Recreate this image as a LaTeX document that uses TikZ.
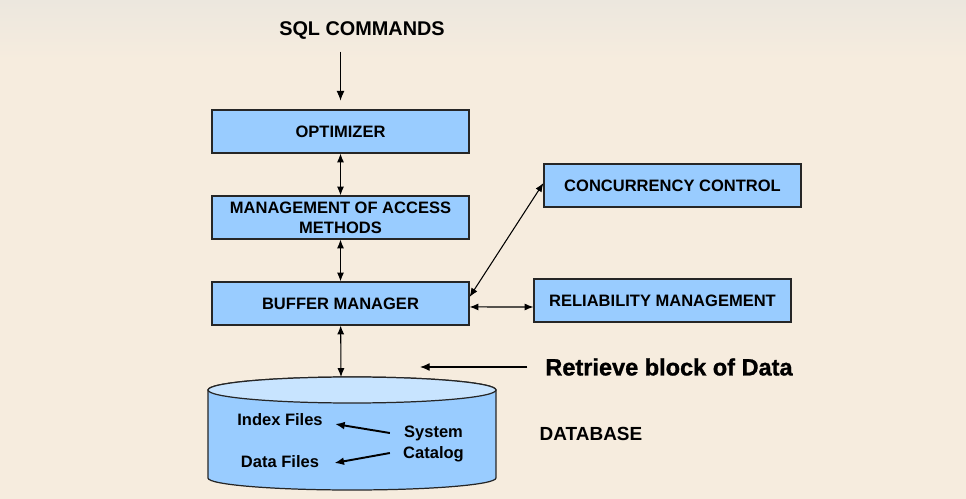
\documentclass[tikz,border=0pt]{standalone}
\usepackage{fontspec}
\setmainfont{Liberation Sans}
\newfontfamily\heavyfont{Liberation Sans Bold}[FakeBold=1.2]
\usepackage{xcolor}
\usetikzlibrary{arrows.meta}
\definecolor{pagebg}{RGB}{246,236,222}
\definecolor{pagetop}{RGB}{236,231,222}
\definecolor{boxblue}{RGB}{153,204,255}
\definecolor{lidblue}{RGB}{200,228,255}
\tikzstyle{every node}=[font=\bfseries\fontsize{9.4}{11.5}\selectfont]
\tikzstyle{block} = [rectangle, draw=black!85, line width=0.7pt, fill=boxblue, text centered, align=center, minimum width=5.14cm, minimum height=0.86cm, inner sep=0pt, node distance=1.72cm]
\tikzstyle{label} = [inner sep=0pt]
\tikzstyle{line} = [draw, line width=0.6pt, -{Latex[length=5.5pt,width=4.5pt]}]
\tikzstyle{biline} = [draw, line width=0.6pt, {Latex[length=5pt,width=4pt]}-{Latex[length=5pt,width=4pt]}]

\begin{document}
\begin{tikzpicture}[x=0.02cm, y=-0.02cm]
    % Page
    \useasboundingbox (0,0) rectangle (966,499);
    \fill [pagebg] (0,0) rectangle (966,499);
    \shade [top color=pagetop, bottom color=pagebg] (0,0) rectangle (966,60);
    % Database cylinder
    \filldraw [fill=boxblue, draw=black!85, line width=0.7pt] (208,390) -- (208,478)
        arc [start angle=180, end angle=360, x radius=2.88cm, y radius=0.24cm]
        -- (496,390) arc [start angle=0, end angle=180, x radius=2.88cm, y radius=0.26cm] -- cycle;
    \filldraw [fill=lidblue, draw=black!85, line width=0.7pt] (352,390) ellipse [x radius=2.88cm, y radius=0.26cm];
    \coordinate (dbtop) at (341,377);
    \coordinate (retrtip) at (420,367);
    % Place nodes
    \node [label, font=\bfseries\fontsize{11.3}{13}\selectfont] (sql) at (362,31) {SQL COMMANDS};
    \node [block] (optimizer) at (340.5,131.5) {OPTIMIZER};
    \node [block, below of=optimizer] (access) {MANAGEMENT OF ACCESS\\METHODS};
    \node [block, below of=access] (buffer) {BUFFER MANAGER};
    \node [block] (concurrency) at (672.5,185.5) {CONCURRENCY CONTROL};
    \node [block] (reliability) at (662.5,300.5) {RELIABILITY MANAGEMENT};
    \node [label, anchor=west, font=\heavyfont\fontsize{13.4}{15}\selectfont] (retrieve) at (545,367) {Retrieve block of Data};
    \node [label, font=\bfseries\fontsize{10.8}{13}\selectfont] (database) at (591,434) {DATABASE};
    \node [label] (index) at (280,420) {Index Files};
    \node [label] (datafiles) at (280,462) {Data Files};
    \node [label, align=center] (catalog) at (433.5,444) {System\\Catalog};
    % Draw edges
    \path [line, shorten <=6.5pt, shorten >=5pt] (sql.south -| optimizer.north) -- (optimizer.north);
    \path [biline] (optimizer) -- (access);
    \path [biline] (access) -- (buffer);
    \path [biline] (buffer) -- (dbtop);
    \path [biline] ([yshift=0.13cm]buffer.east) -- ([yshift=0.05cm]concurrency.west);
    \path [biline] ([yshift=-0.07cm]buffer.east) -- ([yshift=-0.13cm]reliability.west);
    \path [line, shorten <=10pt] (retrieve.west) -- (retrtip);
    \path [line, line width=1.1pt] ([shift={(-13,-11)}]catalog.west) -- ([shift={(12,4)}]index.east);
    \path [line, line width=1.1pt] ([shift={(-13,9)}]catalog.west) -- ([shift={(15,1)}]datafiles.east);
\end{tikzpicture}
\end{document}
